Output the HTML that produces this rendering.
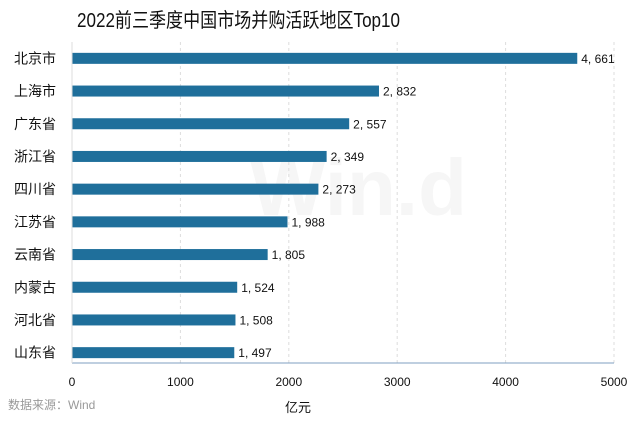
<!DOCTYPE html>
<html><head><meta charset="utf-8"><style>
body{margin:0;background:#fff;}
svg text{font-family:"Liberation Sans","Noto Sans CJK SC",sans-serif;}
</style></head><body>
<svg width="640" height="420" viewBox="0 0 640 420">
<text x="77" y="27" font-size="20" fill="#111" textLength="323" lengthAdjust="spacingAndGlyphs">2022前三季度中国市场并购活跃地区Top10</text>
<text x="250" y="215" font-size="80" font-weight="bold" fill="#f6f6f6">Win.d</text>
<g id="grid"></g><g id="bars"></g><g id="axes"></g>
<text x="8" y="409" font-size="12" fill="#999">数据来源：Wind</text>
<text x="298" y="412" font-size="13" fill="#111" text-anchor="middle">亿元</text>
</svg>
<script>
const categories=["北京市","上海市","广东省","浙江省","四川省","江苏省","云南省","内蒙古","河北省","山东省"];
const values=[4661,2832,2557,2349,2273,1988,1805,1524,1508,1497];
const xTicks=[0,1000,2000,3000,4000,5000];
const NS="http://www.w3.org/2000/svg";
const xL=72,xR=614,xmax=5000,plotTop=42,plotBottom=363,bandBottom=369;
const X=v=>xL+(xR-xL)*v/xmax;
const rowH=(bandBottom-plotTop)/categories.length;
const Y=i=>plotTop+rowH*(i+0.5);
function mk(t,a,p){const e=document.createElementNS(NS,t);for(const k in a)e.setAttribute(k,a[k]);p.appendChild(e);return e;}
const grid=document.getElementById('grid'),bars=document.getElementById('bars'),axes=document.getElementById('axes');
const fmt=v=>{const s=String(v);return s.length>3?s.slice(0,-3)+", "+s.slice(-3):s;};
xTicks.forEach(t=>{
 if(t>0){const l=mk('line',{x1:X(t),x2:X(t),y1:plotTop,y2:plotBottom,stroke:'#ddd','stroke-dasharray':'3,3'},grid);
 
 }
 const tx=mk('text',{x:X(t),y:386,'font-size':12,'text-anchor':'middle',fill:'#111'},axes);tx.textContent=t;
 
 
});
categories.forEach((c,i)=>{
 const r=mk('rect',{x:xL,y:Y(i)-5.5,width:X(values[i])-xL,height:11,fill:'#1f6f9b'},bars);
 
 
 const v=mk('text',{x:X(values[i])+4,y:Y(i)+4.5,'font-size':12,fill:'#111'},bars);v.textContent=fmt(values[i]);
 
 
 const l=mk('text',{x:56,y:Y(i)+5,'font-size':14,'text-anchor':'end',fill:'#111'},axes);l.textContent=c;
 
 
});
const ax=mk('line',{x1:xL,x2:xR,y1:plotBottom,y2:plotBottom,stroke:'#7f9fc0'},axes);


const ay=mk('line',{x1:xL,x2:xL,y1:plotTop,y2:plotBottom,stroke:'#ddd'},axes);


</script>
</body></html>
